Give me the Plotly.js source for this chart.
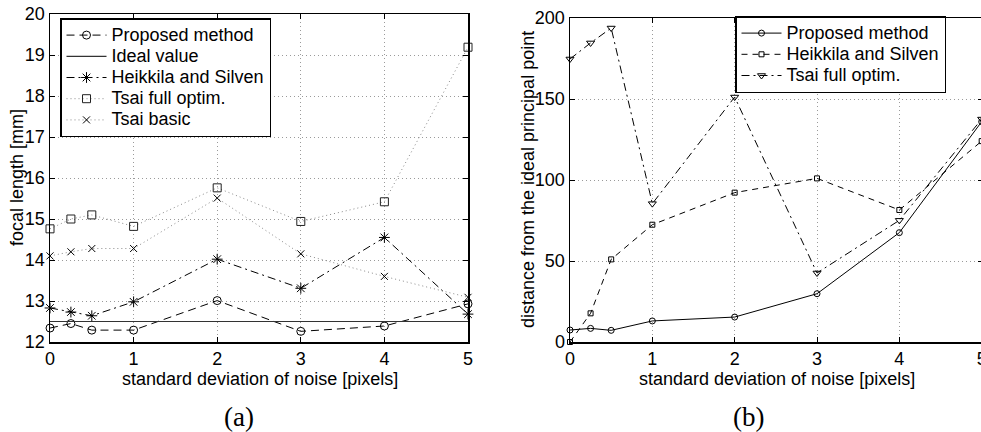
<!DOCTYPE html>
<html>
<head>
<meta charset="utf-8">
<script src="https://cdn.plot.ly/plotly-3.0.1.min.js"></script>
<style>
html,body{margin:0;padding:0;overflow:hidden;background:#fff;}
#plot{width:984px;height:432px;}
</style>
</head>
<body>
<div id="plot"></div>
<script>
// ---- data ----
var noiseStd = [0, 0.25, 0.5, 1, 2, 3, 4, 5];

// (a) focal length [mm]
var focalProposed  = [12.34, 12.45, 12.29, 12.29, 13.01, 12.26, 12.39, 12.93];
var focalIdeal     = [12.5, 12.5, 12.5, 12.5, 12.5, 12.5, 12.5, 12.5];
var focalHeikkila  = [12.83, 12.73, 12.64, 12.98, 14.02, 13.31, 14.55, 12.68];
var focalTsaiFull  = [14.76, 15.0, 15.1, 14.82, 15.76, 14.94, 15.42, 19.19];
var focalTsaiBasic = [14.1, 14.2, 14.28, 14.28, 15.51, 14.15, 13.6, 13.09];

// (b) distance from the ideal principal point
var distProposed = [7.4, 8.4, 7.2, 13.0, 15.4, 29.8, 67.5, 136];
var distHeikkila = [0, 17.7, 51, 72.4, 92.2, 101, 81.5, 124];
var distTsaiFull = [174.7, 184.6, 193.8, 85.4, 151.2, 42.6, 75.1, 137.6];

var namesA = ["Proposed method", "Ideal value", "Heikkila and Silven", "Tsai full optim.", "Tsai basic"];
var namesB = ["Proposed method", "Heikkila and Silven", "Tsai full optim."];
var xTitle = "standard deviation of noise [pixels]";
var yTitleA = "focal length [mm]";
var yTitleB = "distance from the ideal principal point";
var panelLabels = ["(a)", "(b)"];

// ---- styling ----
var W = 984, H = 432;
var FONT = "Liberation Sans, Arial, sans-serif";
var SERIF = "Liberation Serif, DejaVu Serif, serif";
function nm(s){ return '<span style="font-size:18px">' + s + '</span>'; }
var dotted = "1px,3px";
var gray = "#8a8a8a";

var traces = [
  {x: noiseStd, y: focalProposed, name: nm(namesA[0]), mode: "lines+markers", xaxis: "x", yaxis: "y", legend: "legend",
   line: {color: "#000", width: 1, dash: "8px,5px"}, marker: {symbol: "circle-open", size: 8, color: "#000", line: {width: 1, color: "#000"}}, cliponaxis: false},
  {x: noiseStd, y: focalIdeal, name: nm(namesA[1]), mode: "lines", xaxis: "x", yaxis: "y", legend: "legend",
   line: {color: "#333", width: 1.2}},
  {x: noiseStd, y: focalHeikkila, name: nm(namesA[2]), mode: "lines+markers", xaxis: "x", yaxis: "y", legend: "legend",
   line: {color: "#000", width: 1, dash: "8px,4px,2px,4px"}, marker: {symbol: "asterisk-open", size: 9, color: "#000", line: {width: 1, color: "#000"}}, cliponaxis: false},
  {x: noiseStd, y: focalTsaiFull, name: nm(namesA[3]), mode: "lines+markers", xaxis: "x", yaxis: "y", legend: "legend",
   line: {color: gray, width: 1, dash: dotted}, marker: {symbol: "square-open", size: 8, color: "#222", line: {width: 1, color: "#222"}}, cliponaxis: false},
  {x: noiseStd, y: focalTsaiBasic, name: nm(namesA[4]), mode: "lines+markers", xaxis: "x", yaxis: "y", legend: "legend",
   line: {color: gray, width: 1, dash: dotted}, marker: {symbol: "x-thin-open", size: 7, color: "#000", line: {width: 1, color: "#000"}}, cliponaxis: false},

  {x: noiseStd, y: distProposed, name: nm(namesB[0]), mode: "lines+markers", xaxis: "x2", yaxis: "y2", legend: "legend2",
   line: {color: "#000", width: 1}, marker: {symbol: "circle-open", size: 6, color: "#000", line: {width: 1, color: "#000"}}, cliponaxis: false},
  {x: noiseStd, y: distHeikkila, name: nm(namesB[1]), mode: "lines+markers", xaxis: "x2", yaxis: "y2", legend: "legend2",
   line: {color: "#000", width: 1, dash: "6px,5px"}, marker: {symbol: "square-open", size: 5, color: "#000", line: {width: 1, color: "#000"}}, cliponaxis: false},
  {x: noiseStd, y: distTsaiFull, name: nm(namesB[2]), mode: "lines+markers", xaxis: "x2", yaxis: "y2", legend: "legend2",
   line: {color: "#000", width: 1, dash: "8px,4px,2px,4px"}, marker: {symbol: "triangle-down-open", size: 7, color: "#000", line: {width: 1, color: "#000"}}, cliponaxis: false}
];

function axisBase(extra){
  var a = {
    showline: true, linecolor: "#000", linewidth: 1.5, mirror: "ticks",
    ticks: "inside", ticklen: 5, tickwidth: 1, tickcolor: "#000",
    showgrid: true, gridcolor: "#9a9a9a", gridwidth: 1, griddash: dotted,
    zeroline: false, tickfont: {family: FONT, size: 18, color: "#000"},
    ticklabeloverflow: "allow",
    automargin: false, fixedrange: true
  };
  for (var k in extra) a[k] = extra[k];
  return a;
}

function label(text, xpx, ypx, angle, font){
  return {text: text, xref: "paper", yref: "paper", x: xpx / W, y: (H - ypx) / H,
    xanchor: "center", yanchor: "middle", showarrow: false, textangle: angle || 0,
    font: font};
}
var titleFont = {family: FONT, size: 18, color: "#000"};
var panelFont = {family: SERIF, size: 27, color: "#000"};

var layout = {
  width: W, height: H,
  margin: {l: 0, r: 0, t: 0, b: 0},
  paper_bgcolor: "#fff", plot_bgcolor: "#fff",
  font: {family: FONT, size: 18, color: "#000"},
  showlegend: true,
  xaxis: axisBase({domain: [50/W, 468/W], range: [0, 5], dtick: 1, anchor: "y"}),
  yaxis: axisBase({domain: [(H-342)/H, (H-14)/H], range: [12, 20], dtick: 1, anchor: "x"}),
  xaxis2: axisBase({domain: [570/W, 982.5/W], range: [0, 5.01], dtick: 1, anchor: "y2"}),
  yaxis2: axisBase({domain: [(H-342)/H, (H-18)/H], range: [0, 200], dtick: 50, anchor: "x2"}),
  legend: {x: 60/W, y: (H-18)/H, xanchor: "left", yanchor: "top", bgcolor: "#fff",
    bordercolor: "#000", borderwidth: 1.5, font: {family: FONT, size: 14, color: "#000"},
    itemwidth: 40, traceorder: "normal"},
  legend2: {x: 735/W, y: (H-16)/H, xanchor: "left", yanchor: "top", bgcolor: "#fff",
    bordercolor: "#000", borderwidth: 1.5, font: {family: FONT, size: 14, color: "#000"},
    itemwidth: 40, traceorder: "normal"},
  annotations: [
    label(xTitle, 260, 379, 0, titleFont),
    label(xTitle, 777, 379, 0, titleFont),
    label(yTitleA, 17, 178, -90, titleFont),
    label(yTitleB, 528, 180, -90, titleFont),
    label(panelLabels[0], 239, 417, 0, panelFont),
    label(panelLabels[1], 748, 417, 0, panelFont)
  ]
};

Plotly.newPlot("plot", traces, layout, {staticPlot: true, displayModeBar: false});
</script>
</body>
</html>
